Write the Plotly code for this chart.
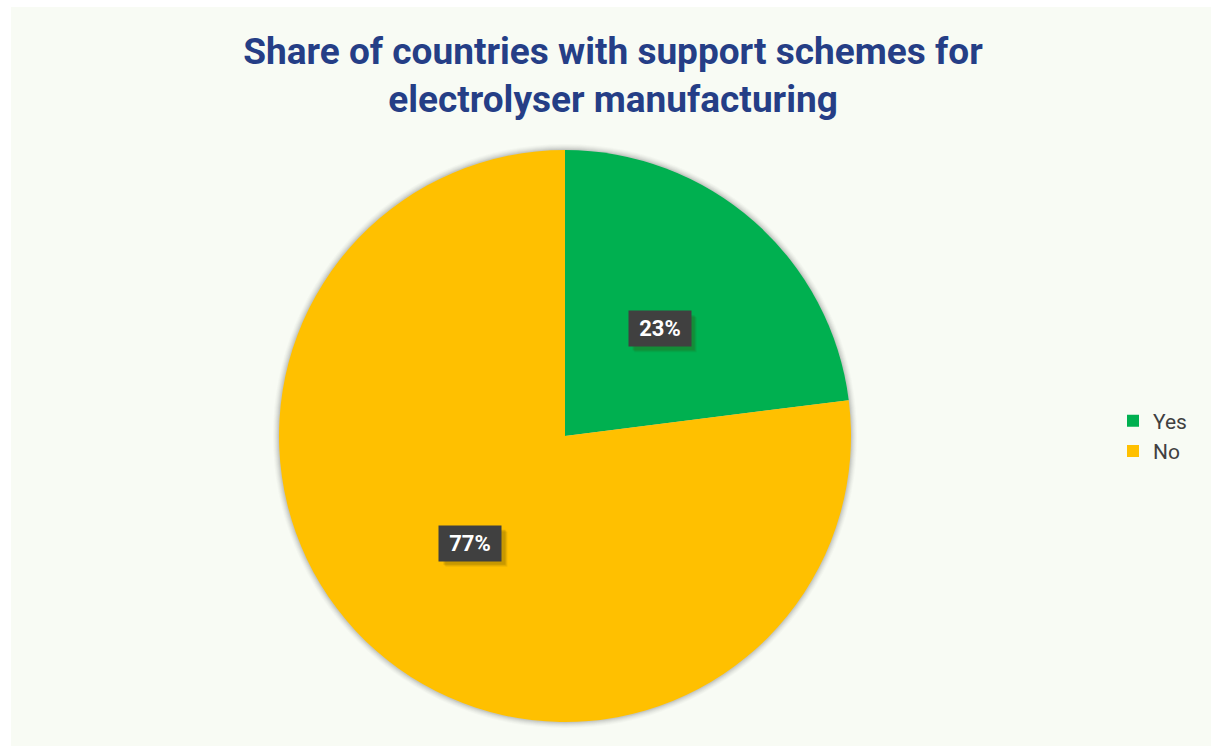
import math
import plotly.graph_objects as go

# Survey answers and their shares (%)
answers = ["Yes", "No"]
shares = [23, 77]
slice_colors = ["#00B050", "#FFC000"]

W, H = 1211, 746
# Pie placement in pixels (centre and radius), converted to paper fractions
cx, cy, R = 565, 436, 286
dom_x = [(cx - R) / W, (cx + R) / W]
dom_y = [(H - cy - R) / H, (H - cy + R) / H]

fig = go.Figure()
fig.add_trace(go.Pie(
    labels=answers,
    values=shares,
    sort=False,
    direction="clockwise",
    rotation=0,
    marker=dict(colors=slice_colors, line=dict(width=0)),
    textinfo="none",
    hoverinfo="label+percent",
    domain=dict(x=dom_x, y=dom_y),
))

# Chart area background and a faint halo behind the pie
shapes = [dict(type="rect", xref="paper", yref="paper",
               x0=11 / W, x1=1, y0=0, y1=(H - 7) / H,
               fillcolor="#F8FBF4", line=dict(width=0), layer="below")]
for i, a in zip(range(6, 0, -1), [0.03, 0.04, 0.05, 0.06, 0.08, 0.10]):
    rr = R + i
    shapes.append(dict(type="circle", xref="paper", yref="paper",
                       x0=(cx - rr) / W, x1=(cx + rr) / W,
                       y0=(H - cy - rr) / H, y1=(H - cy + rr) / H,
                       fillcolor=f"rgba(90,90,90,{a})", line=dict(width=0),
                       layer="below"))

# Data labels: boxed percentages placed at each slice's mid-angle
box_w, box_h = 62, 35
pad = 2
annotations = []
total = sum(shares)
cum = 0
for val in shares:
    mid = (cum + val / 2) / total * 2 * math.pi  # clockwise from 12 o'clock
    cum += val
    r = 0.5 * R
    px = cx + r * math.sin(mid)
    py = cy - r * math.cos(mid)
    # soft drop shadow under the label box
    for k, a in [(6, 0.08), (5, 0.10), (4, 0.14)]:
        shapes.append(dict(type="rect", xref="paper", yref="paper",
                           x0=(px - box_w / 2 + k) / W, x1=(px + box_w / 2 + k) / W,
                           y0=(H - py - box_h / 2 - k) / H, y1=(H - py + box_h / 2 - k) / H,
                           fillcolor=f"rgba(70,55,0,{a})", line=dict(width=0),
                           layer="above"))
    annotations.append(dict(
        x=px / W, y=(H - py) / H, xref="paper", yref="paper",
        xanchor="center", yanchor="middle",
        text=f"<b>{round(val / total * 100)}%</b>", showarrow=False,
        width=box_w - 2 * pad, height=box_h - 2 * pad, borderpad=pad,
        bgcolor="#404040",
        font=dict(family="Roboto", color="white", size=22),
    ))

fig.update_layout(
    width=W, height=H,
    margin=dict(l=0, r=0, t=0, b=0),
    paper_bgcolor="white",
    plot_bgcolor="white",
    font=dict(family="Roboto", color="#404040"),
    title=dict(
        text="<b>Share of countries with support schemes for<br>electrolyser manufacturing</b>",
        x=613 / W, xanchor="center", y=1 - 64 / H, yanchor="top",
        font=dict(family="Roboto", size=37, color="#253E86"),
    ),
    legend=dict(x=1113 / W, xanchor="left", y=(H - 436) / H, yanchor="middle",
                font=dict(family="Roboto", size=21, color="#404040"),
                bgcolor="rgba(0,0,0,0)"),
    shapes=shapes,
    annotations=annotations,
)

fig.write_html("out.html")
